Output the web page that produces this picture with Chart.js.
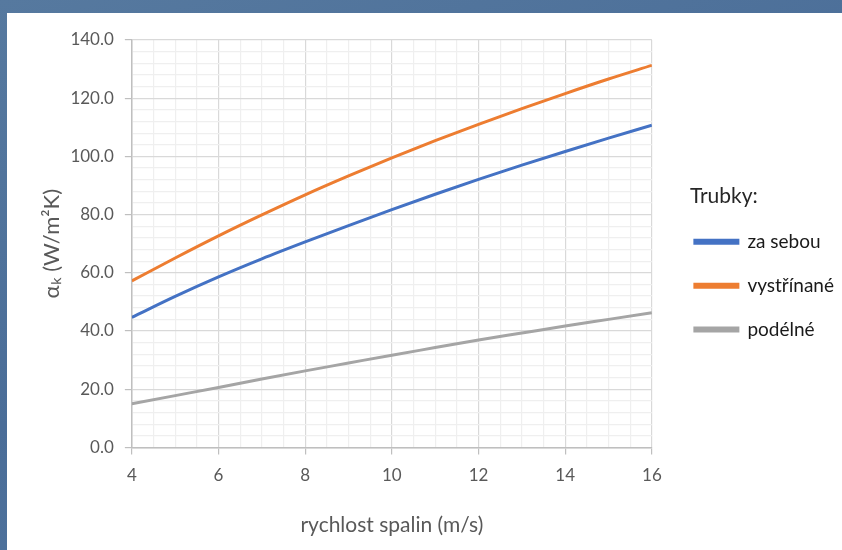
<!DOCTYPE html>
<html>
<head>
<meta charset="utf-8">
<script src="https://cdn.jsdelivr.net/npm/chart.js@4/dist/chart.umd.min.js"></script>
<style>
  html, body { margin: 0; padding: 0; }
  body { width: 842px; height: 550px; background: linear-gradient(160deg, #56799f 0%, #4a6d98 50%, #557aa3 100%); position: relative; overflow: hidden; }
  #panel { position: absolute; left: 7px; top: 13px; width: 835px; height: 537px; background: #fff; }
</style>
</head>
<body>
<div id="panel"><canvas id="myChart" width="835" height="537"></canvas></div>
<script>
var speeds = [4, 5, 6, 7, 8, 9, 10, 11, 12, 13, 14, 15, 16];
var zaSebou = [44.7, 51.9, 58.6, 64.8, 70.6, 76.2, 81.7, 87.0, 92.1, 97.0, 101.7, 106.3, 110.7];
var vystrinane = [57.2, 65.1, 72.7, 79.9, 86.8, 93.3, 99.5, 105.4, 111.0, 116.4, 121.6, 126.6, 131.3];
var podelne = [15.0, 17.8, 20.6, 23.5, 26.3, 29.0, 31.7, 34.3, 36.9, 39.3, 41.7, 44.0, 46.3];
var seriesNames = ["za sebou", "vystřínané", "podélné"];
var seriesColors = ["#4472c4", "#ed7d31", "#a5a5a5"];

function toPoints(vals) {
    return speeds.map(function (s, i) { return { x: s, y: vals[i] }; });
}

var tickFont = { family: "Lato", size: 17 };
var textColor = "#595959";

// put the legend where it sits in the original (right of the plot, a bit higher)
var legendPlace = {
    id: "legendPlace",
    afterLayout: function (chart) {
        var lg = chart.legend;
        var w = lg.width, h = lg.height;
        lg.left = chart.chartArea.right + 38;
        lg.right = lg.left + w;
        lg.top = 173;
        lg.bottom = lg.top + h;
    }
};

var ctx = document.getElementById("myChart").getContext("2d");
var myChart = new Chart(ctx, {
    type: "line",
    plugins: [legendPlace],
    data: {
        datasets: [zaSebou, vystrinane, podelne].map(function (vals, i) {
            return {
                label: seriesNames[i],
                data: toPoints(vals),
                borderColor: seriesColors[i],
                backgroundColor: seriesColors[i],
                borderWidth: 3,
                pointRadius: 0,
                fill: false,
                cubicInterpolationMode: "monotone"
            };
        })
    },
    options: {
        responsive: false,
        animation: false,
        layout: { padding: { left: 28, top: 27, right: 36, bottom: 8 } },
        plugins: {
            tooltip: { enabled: false },
            legend: {
                position: "right",
                align: "start",
                title: {
                    display: true,
                    text: "Trubky:",
                    position: "start",
                    color: "#262626",
                    font: { family: "Lato", size: 21 },
                    padding: { top: 0, bottom: 16 }
                },
                labels: {
                    boxWidth: 43,
                    boxHeight: 3,
                    padding: 5,
                    color: "#1a1a1a",
                    font: { family: "Lato", size: 19, lineHeight: 2.05 },
                    generateLabels: function (chart) {
                        // one-line arrays so each row gets the taller line height
                        return Chart.defaults.plugins.legend.labels.generateLabels(chart).map(function (it) {
                            it.text = [it.text];
                            return it;
                        });
                    }
                }
            }
        },
        scales: {
            x: {
                type: "linear",
                min: 4,
                max: 16,
                border: { color: "#bfbfbf", width: 1.5 },
                grid: {
                    color: function (c) { return c.tick && c.tick.value % 2 === 0 ? "#d9d9d9" : "#efefef"; },
                    tickColor: function (c) { return c.tick && c.tick.value % 2 === 0 ? "#bfbfbf" : "rgba(0,0,0,0)"; },
                    tickLength: 7,
                    lineWidth: 1.2
                },
                ticks: {
                    stepSize: 0.5,
                    autoSkip: false,
                    maxRotation: 0,
                    color: textColor,
                    font: tickFont,
                    padding: 11,
                    callback: function (v) { return v % 2 === 0 ? String(v) : ""; }
                },
                title: {
                    display: true,
                    text: "rychlost spalin (m/s)",
                    color: textColor,
                    font: { family: "Lato", size: 21 },
                    padding: { top: 16, bottom: 4 }
                }
            },
            y: {
                min: 0,
                max: 140,
                border: { color: "#bfbfbf", width: 1.5 },
                grid: {
                    color: function (c) { return c.tick && c.tick.value % 20 === 0 ? "#d9d9d9" : "#efefef"; },
                    tickColor: function (c) { return c.tick && c.tick.value % 20 === 0 ? "#bfbfbf" : "rgba(0,0,0,0)"; },
                    tickLength: 7,
                    lineWidth: 1.2
                },
                ticks: {
                    stepSize: 4,
                    autoSkip: false,
                    color: textColor,
                    font: tickFont,
                    padding: 11,
                    callback: function (v) { return v % 20 === 0 ? v.toFixed(1) : ""; }
                },
                title: {
                    display: true,
                    text: "α\u2096 (W/m²K)",
                    color: textColor,
                    font: { family: "Lato", size: 22 },
                    padding: { top: 4, bottom: -6 }
                }
            }
        }
    }
});
</script>
</body>
</html>
